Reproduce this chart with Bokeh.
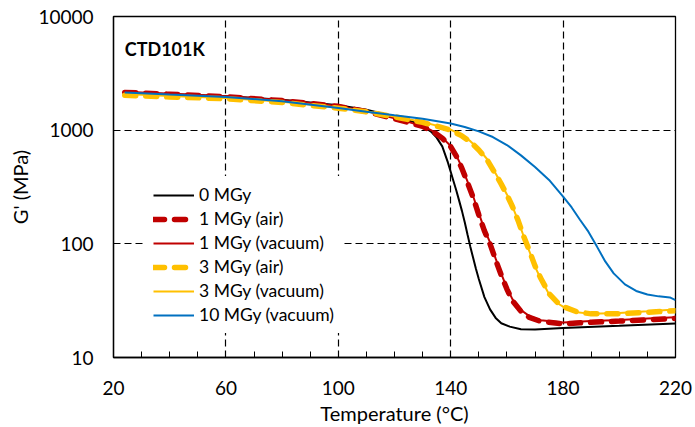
from bokeh.plotting import figure
from bokeh.models import FixedTicker, Label, Range1d
from bokeh.embed import file_html
from bokeh.resources import INLINE

FONT = "Lato"

# 0 MGy
t_0 = [24, 40, 60, 80, 100, 110, 120, 126, 130, 133, 135, 137, 139, 140, 141, 142, 143, 144, 145, 146, 147, 148, 149, 150, 152, 154, 156, 158, 161, 165, 170, 180, 200, 220]
g_0 = [2150, 2080, 1990, 1850, 1660, 1510, 1320, 1200, 1090, 970, 860, 720, 520, 430, 355, 295, 240, 195, 155, 120, 94, 75, 60, 49, 34, 26.5, 22.3, 20, 18.7, 17.7, 17.6, 18.2, 19.0, 19.9]

# 1 MGy (air)
t_1a = [24, 40, 60, 80, 100, 110, 120, 126, 130, 134, 137, 140, 142, 144, 146, 148, 150, 152, 154, 156, 158, 160, 162, 165, 168, 172, 180, 190, 200, 210, 220]
g_1a = [2150, 2070, 1970, 1820, 1620, 1460, 1260, 1150, 1080, 960, 850, 715, 590, 460, 345, 255, 180, 130, 100, 72, 53, 40, 31.5, 25.5, 22.5, 20.8, 19.8, 20.4, 20.9, 21.5, 22.1]

# 1 MGy (vacuum)
t_1v = [24, 40, 60, 80, 100, 110, 120, 126, 130, 134, 137, 140, 142, 144, 146, 148, 150, 152, 154, 156, 158, 160, 162, 165, 168, 172, 180, 190, 200, 210, 220]
g_1v = [2180, 2090, 1990, 1840, 1630, 1470, 1270, 1160, 1090, 970, 860, 725, 600, 470, 352, 262, 186, 134, 103, 74, 54.5, 41, 32.5, 26.2, 23.1, 21.3, 20.3, 20.9, 21.4, 22.0, 22.6]

# 3 MGy (air)
t_3a = [24, 40, 60, 80, 100, 110, 120, 130, 136, 140, 144, 147, 150, 153, 156, 158, 160, 162, 164, 166, 168, 170, 172, 175, 178, 181, 185, 190, 200, 210, 220]
g_3a = [2030, 1960, 1890, 1750, 1560, 1450, 1310, 1170, 1070, 1000, 890, 790, 670, 546, 410, 335, 270, 212, 160, 116, 87, 64, 50, 36.5, 30.5, 27.5, 25.2, 24.2, 24.3, 25.0, 25.8]

# 3 MGy (vacuum)
t_3v = [24, 40, 60, 80, 100, 110, 120, 130, 136, 140, 144, 147, 150, 153, 156, 158, 160, 162, 164, 166, 168, 170, 172, 175, 178, 181, 185, 190, 200, 210, 220]
g_3v = [2080, 2000, 1920, 1780, 1580, 1465, 1320, 1180, 1080, 1010, 900, 800, 680, 555, 415, 338, 272, 213, 160, 116, 86, 63, 49.5, 36, 30, 27, 25, 24.2, 24.6, 25.5, 26.5]

# 10 MGy (vacuum)
t_10 = [24, 40, 60, 80, 100, 110, 120, 130, 140, 145, 150, 155, 160, 165, 170, 175, 180, 183, 186, 189, 192, 195, 198, 202, 206, 210, 214, 218, 220]
g_10 = [2150, 2060, 1960, 1800, 1570, 1450, 1350, 1260, 1146, 1065, 975, 870, 740, 600, 475, 365, 260, 210, 163, 128, 95, 70, 55, 44, 38.5, 35.8, 34.5, 33.8, 32]

x_ticks = [20, 60, 100, 140, 180, 220]
x_minor = list(range(20, 221, 10))
y_ticks = [10, 100, 1000, 10000]
y_tick_labels = ["10", "100", "1000", "10000"]

p = figure(width=695, height=427, y_axis_type="log",
           x_range=Range1d(20, 220), y_range=Range1d(10, 10000),
           output_backend="svg", toolbar_location=None,
           min_border_left=113, min_border_right=20,
           min_border_top=16, min_border_bottom=69)

p.outline_line_color = "black"
p.outline_line_width = 1.3
p.outline_line_alpha = 1

DASH = "11 10"
p.line(t_0, g_0, color="#000000", line_width=2, legend_label="0 MGy")
p.line(t_1a, g_1a, color="#C00000", line_width=5.5, line_dash=DASH, line_cap="round", legend_label="1 MGy (air)")
p.line(t_1v, g_1v, color="#C00000", line_width=2, legend_label="1 MGy (vacuum)")
p.line(t_3a, g_3a, color="#FFC000", line_width=5.5, line_dash=DASH, line_cap="round", legend_label="3 MGy (air)")
p.line(t_3v, g_3v, color="#FFC000", line_width=2, legend_label="3 MGy (vacuum)")
p.line(t_10, g_10, color="#0070C0", line_width=2, legend_label="10 MGy (vacuum)")

# axes
p.xaxis.ticker = FixedTicker(ticks=x_ticks, minor_ticks=x_minor)
p.yaxis.ticker = FixedTicker(ticks=y_ticks, minor_ticks=[])
p.yaxis.major_label_overrides = {t: s for t, s in zip(y_ticks, y_tick_labels)}
p.xaxis.axis_label = "Temperature (°C)"
p.yaxis.axis_label = "G' (MPa)"
for ax in (p.xaxis, p.yaxis):
    ax.axis_line_color = "black"
    ax.axis_line_width = 1.3
    ax.major_label_text_font = FONT
    ax.major_label_text_font_size = "19px"
    ax.major_label_text_color = "#000000"
    ax.axis_label_text_font = FONT
    ax.axis_label_text_font_size = "20px"
    ax.axis_label_text_font_style = "normal"
    ax.axis_label_text_color = "#000000"
p.xaxis.major_tick_in = 6
p.xaxis.major_tick_out = 0
p.xaxis.minor_tick_in = 6
p.xaxis.minor_tick_out = 0
p.xaxis.major_tick_line_color = "black"
p.xaxis.minor_tick_line_color = "black"
p.xaxis.major_label_standoff = 23
p.xaxis.axis_label_standoff = 3
p.yaxis.major_tick_line_color = None
p.yaxis.minor_tick_line_color = None
p.yaxis.major_tick_out = 0
p.yaxis.major_label_standoff = 20
p.yaxis.axis_label_standoff = 3

# grid
p.xgrid.grid_line_color = "black"
p.xgrid.grid_line_dash = "7 4"
p.xgrid.grid_line_width = 1.2
p.ygrid.grid_line_color = "black"
p.ygrid.grid_line_dash = "7 4"
p.ygrid.grid_line_width = 1.2

# legend
lg = p.legend[0]
lg.location = (32, 24)
lg.background_fill_color = "white"
lg.background_fill_alpha = 1
lg.border_line_alpha = 0
lg.label_text_font = FONT
lg.label_text_font_size = "17.5px"
lg.label_text_color = "#000000"
lg.glyph_width = 41
lg.glyph_height = 20
lg.label_height = 20
lg.label_standoff = 5
lg.spacing = 3
lg.padding = 8
lg.margin = 0

p.add_layout(Label(x=24, y=5200, text="CTD101K", text_font=FONT, text_font_size="18px",
                   text_font_style="bold", text_baseline="middle", text_color="black"))

open("out.html", "w").write(file_html(p, INLINE))
